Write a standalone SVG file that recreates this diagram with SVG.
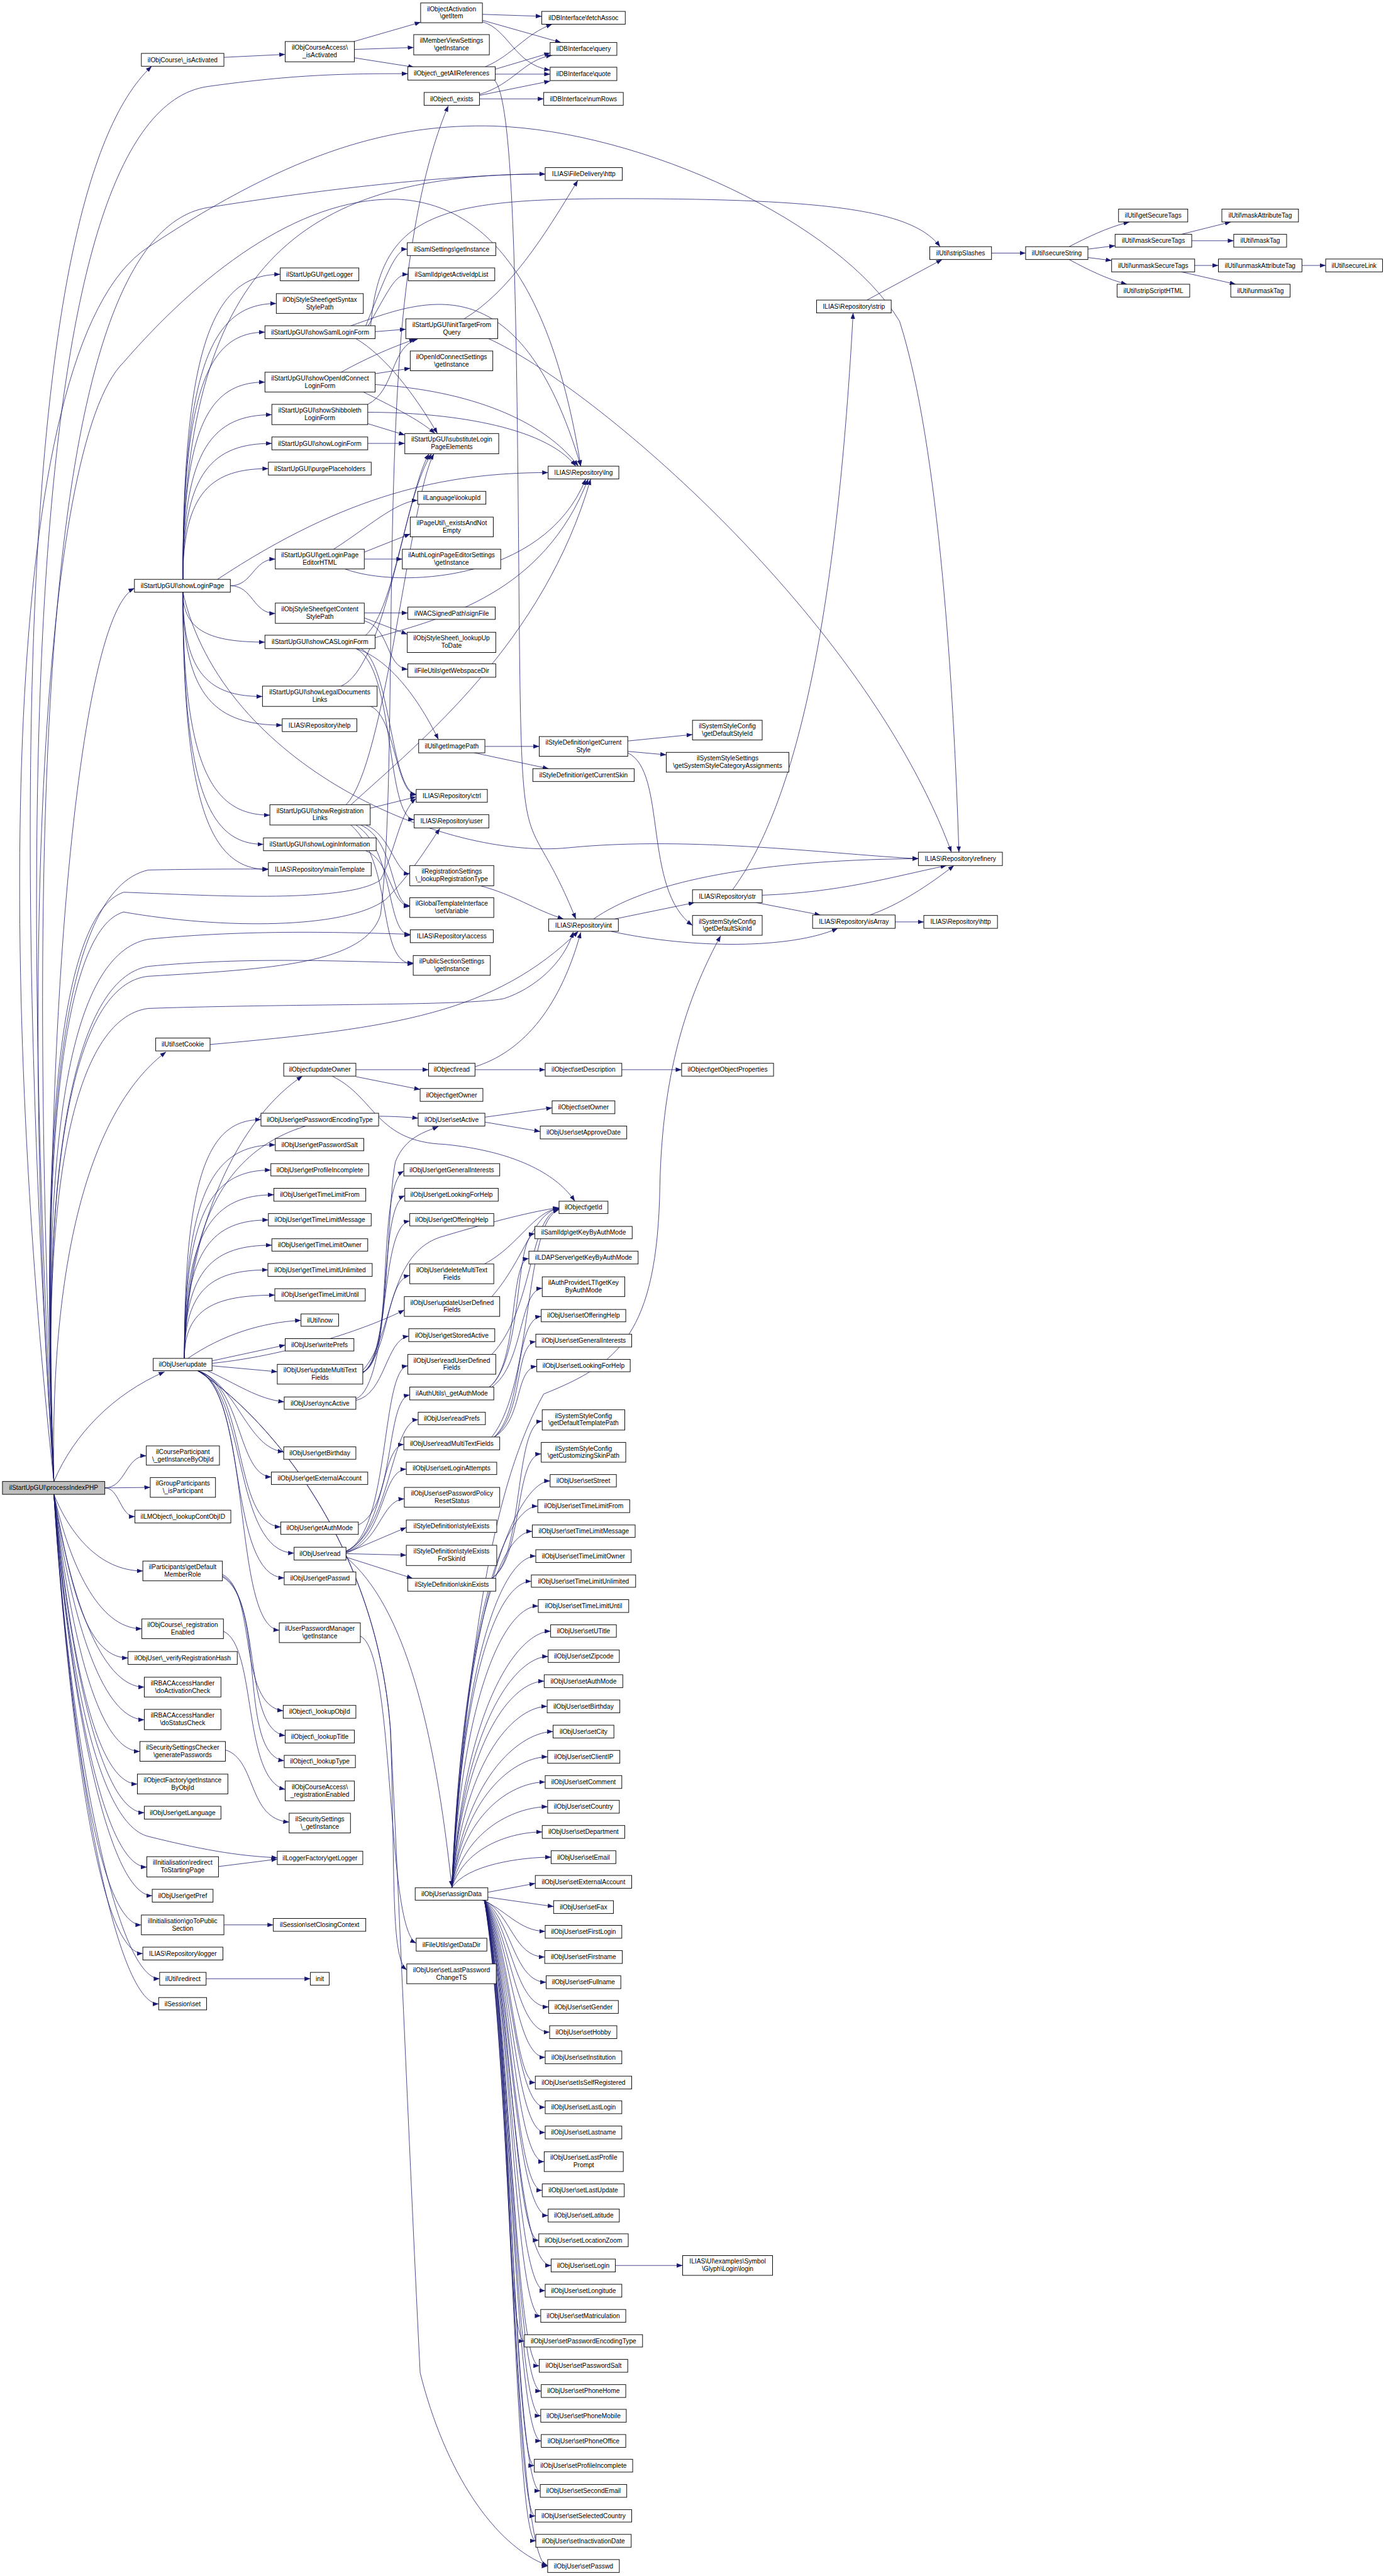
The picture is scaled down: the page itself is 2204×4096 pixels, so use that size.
<svg xmlns="http://www.w3.org/2000/svg" width="2204" height="4096" viewBox="0 0 2204 4096">
<defs>
<marker id="a" markerUnits="userSpaceOnUse" markerWidth="12" markerHeight="9" refX="12" refY="4.5" orient="auto"><path d="M0,0 L12,4.5 L0,9 z" fill="#191970"/></marker>
<style>
.n rect{fill:#fff;stroke:#000;stroke-width:1.2}
.n.r rect{fill:#bfbfbf}
.n text{font-family:"Liberation Sans",Arial,Helvetica,sans-serif;font-size:13px;text-anchor:middle;fill:#000}
.e path{fill:none;stroke:#191970;stroke-width:1;marker-end:url(#a)}
</style>
</defs>
<rect width="2204" height="4096" fill="#fff"/>
<g transform="scale(0.786)">
<g id="edges" class="e">
<path d="M109,2997 C30,1800 20,400 307,134"/>
<path d="M109,2997 C40,1700 40,230 420,175 C600,150 700,149 825,149"/>
<path d="M109,2997 C80,2350 150,1990 300,1975 C550,1960 740,1950 770,1850 C800,1600 780,1100 810,700 C830,450 870,300 907,214"/>
<path d="M109,2997 C60,1800 60,480 420,420 C700,375 950,352 1103,352"/>
<path d="M109,2997 C0,2000 -10,700 300,500 C600,300 800,250 1000,255 C1300,265 1700,450 1820,650 C1900,900 1930,1400 1940,1724"/>
<path d="M109,2997 C80,2200 150,1250 272,1190"/>
<path d="M109,2997 C40,2000 80,900 250,733 C400,560 600,400 800,403 C1000,410 1120,600 1175,943"/>
<path d="M109,2997 C80,2300 120,1850 250,1805 C400,1810 700,1830 770,1780 C800,1720 810,1640 842,1615"/>
<path d="M109,2997 C80,2300 130,1880 250,1845 C450,1880 700,1880 780,1820 C830,1770 860,1720 890,1676"/>
<path d="M109,2997 C80,2300 120,1800 300,1760 C400,1758 480,1758 543,1758"/>
<path d="M109,2997 C80,2300 140,1930 300,1900 C500,1880 700,1886 830,1890"/>
<path d="M109,2997 C80,2350 150,1980 300,1955 C500,1935 700,1945 836,1948"/>
<path d="M109,2997 C80,2400 150,2060 300,2040 C600,2030 950,2035 1020,2020 C1080,2000 1140,1950 1160,1885"/>
<path d="M109,2997 C100,2500 200,2230 336,2128"/>
<path d="M109,2997 C150,2900 230,2820 333,2775"/>
<path d="M212,3010 C254,3010 254,2945 296,2945"/>
<path d="M212,3010 L304,3009"/>
<path d="M212,3010 C242,3010 243,3068 273,3068"/>
<path d="M109,3023 C140,3100 199,3178 289,3178"/>
<path d="M109,3023 C140,3159 197,3295 287,3295"/>
<path d="M109,3023 C140,3188 169,3354 259,3354"/>
<path d="M109,3023 C140,3218 202,3413 292,3413"/>
<path d="M109,3023 C140,3251 202,3479 292,3479"/>
<path d="M109,3023 C140,3283 193,3543 283,3543"/>
<path d="M109,3023 C140,3316 188,3609 278,3609"/>
<path d="M109,3023 C140,3345 202,3667 292,3667"/>
<path d="M109,3023 C140,3391 200,3690 300,3715 C400,3740 480,3755 561,3758"/>
<path d="M109,3023 C140,3400 207,3777 297,3777"/>
<path d="M109,3023 C140,3429 218,3835 308,3835"/>
<path d="M109,3023 C140,3459 196,3894 286,3894"/>
<path d="M109,3023 C140,3488 199,3952 289,3952"/>
<path d="M109,3023 C140,3513 233,4003 323,4003"/>
<path d="M109,3023 C140,3538 231,4054 321,4054"/>
<path d="M370,1172 C370,516 627,352 1103,352"/>
<path d="M370,1172 C370,678 439,555 567,555"/>
<path d="M370,1172 C370,726 436,614 559,614"/>
<path d="M370,1172 C370,772 428,672 536,672"/>
<path d="M370,1172 C370,853 428,773 536,773"/>
<path d="M370,1172 C370,905 433,839 550,839"/>
<path d="M370,1172 C370,952 433,897 550,897"/>
<path d="M370,1172 C370,993 431,948 543,948"/>
<path d="M466,1185 C511,1185 512,1131 557,1131"/>
<path d="M440,1172 C700,1000 900,956 1109,956"/>
<path d="M466,1185 C512,1185 511,1241 557,1241"/>
<path d="M370,1198 C370,1278 428,1299 536,1299"/>
<path d="M370,1198 C370,1366 426,1409 531,1409"/>
<path d="M370,1198 C370,1413 440,1467 571,1467"/>
<path d="M370,1198 C370,1558 432,1649 546,1649"/>
<path d="M370,1198 C370,1606 427,1708 533,1708"/>
<path d="M370,1198 C370,1646 431,1759 543,1759"/>
<path d="M370,1198 C450,1550 900,1740 1150,1715 S1700,1730 1858,1737"/>
<path d="M740,659 C780,560 800,504 824,504"/>
<path d="M745,659 C790,580 800,555 826,555"/>
<path d="M759,671 L821,666"/>
<path d="M720,685 C780,720 840,800 885,877"/>
<path d="M710,659 C850,610 1050,520 1175,943"/>
<path d="M750,659 C770,420 900,400 1300,402 S1850,430 1902,499"/>
<path d="M690,753 C750,720 800,700 840,686"/>
<path d="M759,756 L830,745"/>
<path d="M735,793 C790,820 850,850 880,877"/>
<path d="M759,778 C950,790 1100,850 1170,943"/>
<path d="M744,818 C800,790 790,700 845,686"/>
<path d="M744,857 L819,880"/>
<path d="M744,834 C900,834 1100,860 1165,943"/>
<path d="M744,897 L819,897"/>
<path d="M675,1111 C740,1070 800,1015 845,1012"/>
<path d="M737,1117 L830,1080"/>
<path d="M737,1131 L814,1131"/>
<path d="M698,1151 C800,1190 1100,1180 1185,969"/>
<path d="M737,1240 L825,1240"/>
<path d="M737,1250 L824,1283"/>
<path d="M737,1256 C790,1270 780,1350 825,1354"/>
<path d="M740,1285 C800,1230 820,1000 873,918"/>
<path d="M720,1312 C780,1330 840,1400 887,1496"/>
<path d="M730,1312 C790,1340 790,1600 842,1607"/>
<path d="M720,1312 C800,1350 780,1655 838,1658"/>
<path d="M759,1290 C900,1250 1100,1200 1190,969"/>
<path d="M690,1388 C780,1350 820,1000 868,918"/>
<path d="M750,1429 C800,1450 800,1605 842,1608"/>
<path d="M700,1628 C780,1550 830,1000 878,918"/>
<path d="M710,1628 C850,1500 1100,1300 1195,969"/>
<path d="M749,1635 L842,1612"/>
<path d="M740,1669 C790,1690 800,1765 829,1768"/>
<path d="M730,1669 C800,1700 790,1830 829,1832"/>
<path d="M720,1669 C800,1720 780,1890 830,1892"/>
<path d="M710,1669 C800,1750 760,1950 836,1950"/>
<path d="M740,1721 C790,1740 790,1830 829,1834"/>
<path d="M981,1510 L1091,1510"/>
<path d="M960,1523 L1110,1555"/>
<path d="M1270,1499 L1401,1486"/>
<path d="M1270,1520 L1348,1527"/>
<path d="M1270,1523 C1350,1560 1300,1800 1401,1872"/>
<path d="M972,1792 C1040,1810 1080,1840 1140,1859"/>
<path d="M1244,1859 L1405,1826"/>
<path d="M1201,1859 C1300,1790 1500,1740 1858,1737"/>
<path d="M1236,1884 C1400,1920 1600,1920 1695,1878"/>
<path d="M1542,1811 C1700,1805 1800,1775 1915,1751"/>
<path d="M1530,1826 L1660,1851"/>
<path d="M1482,1800 C1600,1640 1690,1300 1726,633"/>
<path d="M1760,1851 C1820,1830 1880,1790 1930,1751"/>
<path d="M1811,1865 L1869,1865"/>
<path d="M1754,607 L1906,525"/>
<path d="M2006,512 L2075,512"/>
<path d="M2163,499 C2200,480 2240,460 2285,449"/>
<path d="M2201,504 L2256,497"/>
<path d="M2201,521 L2249,527"/>
<path d="M2163,525 C2200,545 2240,565 2280,575"/>
<path d="M2390,474 L2490,449"/>
<path d="M2411,487 L2496,487"/>
<path d="M2417,537 L2465,537"/>
<path d="M2390,550 L2500,575"/>
<path d="M2634,537 L2682,537"/>
<path d="M453,116 L577,110"/>
<path d="M716,84 L851,45"/>
<path d="M717,100 L837,96"/>
<path d="M717,117 L838,136"/>
<path d="M976,29 L1096,33"/>
<path d="M976,41 L1135,86"/>
<path d="M976,44 C1030,60 1040,130 1113,142"/>
<path d="M982,135 C1040,110 1060,70 1117,49"/>
<path d="M1002,140 L1113,107"/>
<path d="M1002,150 L1113,150"/>
<path d="M1000,162 C1040,200 1045,600 1050,1200 S1060,1600 1165,1859"/>
<path d="M970,191 C1040,170 1060,120 1117,112"/>
<path d="M970,193 L1113,164"/>
<path d="M970,200 L1100,200"/>
<path d="M939,645 C1030,590 1100,480 1169,365"/>
<path d="M988,685 C1200,780 1750,1250 1925,1724"/>
<path d="M425,2113 C800,2080 1000,2050 1170,1884"/>
<path d="M373,2748 C380,2450 500,2250 612,2177"/>
<path d="M373,2748 C380,2400 500,2230 846,2262"/>
<path d="M373,2748 C373,2362 427,2265 528,2265"/>
<path d="M373,2748 C373,2402 437,2316 557,2316"/>
<path d="M373,2748 C373,2443 434,2367 548,2367"/>
<path d="M373,2748 C373,2483 436,2417 554,2417"/>
<path d="M373,2748 C373,2524 433,2468 543,2468"/>
<path d="M373,2748 C373,2564 435,2519 550,2519"/>
<path d="M373,2748 C373,2605 432,2569 542,2569"/>
<path d="M373,2748 C373,2646 437,2620 556,2620"/>
<path d="M380,2748 C450,2700 530,2675 609,2671"/>
<path d="M429,2753 L577,2721"/>
<path d="M429,2763 L561,2775"/>
<path d="M420,2773 C480,2800 520,2830 575,2836"/>
<path d="M400,2773 C480,2800 500,2930 574,2937"/>
<path d="M400,2773 C490,2800 480,2985 549,2988"/>
<path d="M400,2773 C500,2800 470,3085 568,3089"/>
<path d="M400,2773 C500,2810 470,3140 595,3142"/>
<path d="M400,2773 C500,2810 460,3190 575,3192"/>
<path d="M400,2773 C510,2820 470,3290 565,3298"/>
<path d="M400,2773 C520,2850 760,3100 790,3500 C810,3900 830,4400 850,4800 C900,5000 1000,5150 1108,5190"/>
<path d="M400,2773 C520,2850 760,3100 790,3500 C800,3800 790,3960 823,3985"/>
<path d="M429,2758 C600,2740 760,2680 818,2650"/>
<path d="M720,2164 L867,2164"/>
<path d="M720,2178 L850,2204"/>
<path d="M672,2177 C760,2220 760,2310 900,2315 C1050,2330 1130,2380 1163,2430"/>
<path d="M961,2164 L1103,2164"/>
<path d="M961,2158 C1050,2130 1130,2050 1175,1886"/>
<path d="M1258,2164 L1379,2164"/>
<path d="M981,2260 L1117,2241"/>
<path d="M981,2270 L1093,2289"/>
<path d="M734,2775 C800,2760 760,2400 817,2369"/>
<path d="M734,2776 C795,2750 765,2440 819,2419"/>
<path d="M734,2777 C790,2740 770,2480 829,2470"/>
<path d="M734,2778 C790,2730 780,2590 829,2580"/>
<path d="M734,2772 C800,2700 780,2530 900,2500 C1000,2470 1080,2450 1131,2443"/>
<path d="M720,2833 C780,2820 780,2710 827,2703"/>
<path d="M720,2830 C790,2800 780,2450 800,2350 C820,2300 860,2290 887,2279"/>
<path d="M725,3085 C800,3050 780,2830 829,2822"/>
<path d="M700,3138 C790,3100 770,2770 825,2763"/>
<path d="M700,3138 C790,3100 790,2875 846,2872"/>
<path d="M700,3139 C780,3100 770,2925 817,2922"/>
<path d="M700,3140 C780,3110 770,2975 822,2972"/>
<path d="M700,3141 C770,3120 770,3035 818,3032"/>
<path d="M700,3142 L822,3090"/>
<path d="M700,3143 L822,3146"/>
<path d="M700,3150 L835,3193"/>
<path d="M700,3150 C820,3250 880,3500 914,3817"/>
<path d="M914,3819 C950,3300 1000,3000 1100,2820 C1250,2760 1330,2700 1335,2400 C1340,2150 1400,2000 1458,1893"/>
<path d="M980,2557 C1050,2520 1080,2450 1131,2444"/>
<path d="M995,2623 C1060,2550 1080,2450 1131,2445"/>
<path d="M995,2740 C1080,2650 1070,2460 1131,2446"/>
<path d="M995,2907 C1080,2800 1060,2470 1131,2447"/>
<path d="M1000,2907 C1060,2850 1040,2670 1095,2663"/>
<path d="M1000,2907 C1060,2860 1040,2720 1084,2714"/>
<path d="M1000,2907 C1060,2870 1040,2770 1086,2764"/>
<path d="M990,2806 C1060,2750 1040,2500 1082,2496"/>
<path d="M990,2806 C1050,2760 1030,2550 1070,2546"/>
<path d="M995,2806 C1060,2760 1050,2610 1097,2606"/>
<path d="M995,3193 C1060,3150 1040,2880 1097,2875"/>
<path d="M995,3193 C1060,3150 1040,2945 1095,2941"/>
<path d="M729,3310 C800,3340 780,3900 842,3931"/>
<path d="M450,3185 C520,3220 480,3450 573,3461"/>
<path d="M450,3188 C530,3230 490,3500 577,3511"/>
<path d="M450,3190 C540,3240 480,3550 575,3562"/>
<path d="M452,3300 C520,3330 490,3600 577,3620"/>
<path d="M456,3540 C520,3560 500,3680 585,3686"/>
<path d="M442,3776 L561,3761"/>
<path d="M453,3894 L553,3894"/>
<path d="M417,4003 L628,4003"/>
<path d="M1245,4583 L1381,4583"/>
<path d="M914,3819 C944,3202 1053,2996 1113,2996"/>
<path d="M914,3819 C940,3240 1028,3047 1088,3047"/>
<path d="M914,3819 C938,3278 1017,3098 1077,3098"/>
<path d="M914,3819 C939,3316 1024,3148 1084,3148"/>
<path d="M914,3819 C938,3354 1015,3199 1075,3199"/>
<path d="M914,3819 C940,3392 1029,3249 1089,3249"/>
<path d="M914,3819 C944,3429 1054,3300 1114,3300"/>
<path d="M914,3819 C943,3467 1049,3351 1109,3351"/>
<path d="M914,3819 C942,3505 1041,3401 1101,3401"/>
<path d="M914,3819 C943,3543 1047,3452 1107,3452"/>
<path d="M914,3819 C945,3582 1059,3503 1119,3503"/>
<path d="M914,3819 C943,3620 1048,3554 1108,3554"/>
<path d="M914,3819 C942,3658 1043,3605 1103,3605"/>
<path d="M914,3819 C943,3696 1048,3655 1108,3655"/>
<path d="M914,3819 C941,3734 1037,3706 1097,3706"/>
<path d="M914,3819 C944,3772 1055,3757 1115,3757"/>
<path d="M987,3828 L1083,3810"/>
<path d="M987,3838 L1120,3857"/>
<path d="M975,3844 C1020,3860 1050,3907 1103,3907"/>
<path d="M980,3844 C1035,3874 1040,3959 1102,3959"/>
<path d="M980,3844 C1035,3886 1040,4010 1105,4010"/>
<path d="M980,3844 C1035,3898 1040,4060 1110,4060"/>
<path d="M980,3844 C1035,3911 1040,4111 1112,4111"/>
<path d="M980,3844 C1035,3923 1040,4162 1103,4162"/>
<path d="M980,3844 C1035,3936 1040,4213 1083,4213"/>
<path d="M980,3844 C1035,3949 1040,4263 1103,4263"/>
<path d="M980,3844 C1035,3962 1040,4314 1103,4314"/>
<path d="M980,3844 C1035,3976 1040,4373 1101,4373"/>
<path d="M980,3844 C1035,3991 1040,4431 1097,4431"/>
<path d="M980,3844 C1035,4005 1040,4482 1109,4482"/>
<path d="M980,3844 C1035,4016 1040,4532 1090,4532"/>
<path d="M980,3844 C1035,4029 1040,4583 1115,4583"/>
<path d="M980,3844 C1035,4042 1040,4634 1103,4634"/>
<path d="M980,3844 C1035,4054 1040,4685 1094,4685"/>
<path d="M980,3844 C1035,4067 1021,4736 1061,4736"/>
<path d="M980,3844 C1035,4080 1040,4786 1091,4786"/>
<path d="M980,3844 C1035,4092 1040,4837 1095,4837"/>
<path d="M980,3844 C1035,4105 1040,4887 1094,4887"/>
<path d="M980,3844 C1035,4118 1040,4938 1095,4938"/>
<path d="M980,3844 C1035,4130 1040,4988 1081,4988"/>
<path d="M980,3844 C1035,4143 1040,5039 1093,5039"/>
<path d="M980,3844 C1035,4155 1040,5090 1083,5090"/>
<path d="M980,3844 C1035,4168 1040,5140 1084,5140"/>
<path d="M980,3844 C1035,4181 1040,5191 1108,5191"/>
</g>
<g id="n1" class="n r"><rect x="5" y="2997" width="207" height="26"/><text x="108.5" y="3014.5">ilStartUpGUI\processIndexPHP</text></g>
<g id="n2" class="n"><rect x="286" y="108" width="167" height="26"/><text x="369.5" y="125.5">ilObjCourse\_isActivated</text></g>
<g id="n3" class="n"><rect x="577" y="84" width="140" height="41"/><text x="647" y="100.5">ilObjCourseAccess\</text><text x="647" y="115.5">_isActivated</text></g>
<g id="n4" class="n"><rect x="851" y="6" width="125" height="40"/><text x="913.5" y="22.5">ilObjectActivation</text><text x="913.5" y="37.5">\getItem</text></g>
<g id="n5" class="n"><rect x="837" y="70" width="153" height="41"/><text x="913.5" y="86.5">ilMemberViewSettings</text><text x="913.5" y="101.5">\getInstance</text></g>
<g id="n6" class="n"><rect x="825" y="135" width="177" height="27"/><text x="913.5" y="153">ilObject\_getAllReferences</text></g>
<g id="n7" class="n"><rect x="858" y="187" width="112" height="26"/><text x="914" y="204.5">ilObject\_exists</text></g>
<g id="n8" class="n"><rect x="1096" y="23" width="169" height="26"/><text x="1180.5" y="40.5">ilDBInterface\fetchAssoc</text></g>
<g id="n9" class="n"><rect x="1113" y="86" width="135" height="26"/><text x="1180.5" y="103.5">ilDBInterface\query</text></g>
<g id="n10" class="n"><rect x="1113" y="136" width="135" height="27"/><text x="1180.5" y="154">ilDBInterface\quote</text></g>
<g id="n11" class="n"><rect x="1100" y="187" width="161" height="26"/><text x="1180.5" y="204.5">ilDBInterface\numRows</text></g>
<g id="n12" class="n"><rect x="1103" y="339" width="156" height="26"/><text x="1181" y="356.5">ILIAS\FileDelivery\http</text></g>
<g id="n13" class="n"><rect x="824" y="491" width="179" height="26"/><text x="913.5" y="508.5">ilSamlSettings\getInstance</text></g>
<g id="n14" class="n"><rect x="826" y="542" width="175" height="26"/><text x="913.5" y="559.5">ilSamlIdp\getActiveIdpList</text></g>
<g id="n15" class="n"><rect x="821" y="645" width="186" height="40"/><text x="914" y="661.5">ilStartUpGUI\initTargetFrom</text><text x="914" y="676.5">Query</text></g>
<g id="n16" class="n"><rect x="830" y="710" width="167" height="40"/><text x="913.5" y="726.5">ilOpenIdConnectSettings</text><text x="913.5" y="741.5">\getInstance</text></g>
<g id="n17" class="n"><rect x="819" y="877" width="190" height="41"/><text x="914" y="893.5">ilStartUpGUI\substituteLogin</text><text x="914" y="908.5">PageElements</text></g>
<g id="n18" class="n"><rect x="1109" y="943" width="143" height="26"/><text x="1180.5" y="960.5">ILIAS\Repository\lng</text></g>
<g id="n19" class="n"><rect x="845" y="994" width="138" height="26"/><text x="914" y="1011.5">ilLanguage\lookupId</text></g>
<g id="n20" class="n"><rect x="830" y="1046" width="168" height="40"/><text x="914" y="1062.5">ilPageUtil\_existsAndNot</text><text x="914" y="1077.5">Empty</text></g>
<g id="n21" class="n"><rect x="814" y="1111" width="199" height="40"/><text x="913.5" y="1127.5">ilAuthLoginPageEditorSettings</text><text x="913.5" y="1142.5">\getInstance</text></g>
<g id="n22" class="n"><rect x="567" y="542" width="159" height="26"/><text x="646.5" y="559.5">ilStartUpGUI\getLogger</text></g>
<g id="n23" class="n"><rect x="559" y="594" width="176" height="40"/><text x="647" y="610.5">ilObjStyleSheet\getSyntax</text><text x="647" y="625.5">StylePath</text></g>
<g id="n24" class="n"><rect x="536" y="659" width="223" height="26"/><text x="647.5" y="676.5">ilStartUpGUI\showSamlLoginForm</text></g>
<g id="n25" class="n"><rect x="536" y="753" width="223" height="40"/><text x="647.5" y="769.5">ilStartUpGUI\showOpenIdConnect</text><text x="647.5" y="784.5">LoginForm</text></g>
<g id="n26" class="n"><rect x="550" y="818" width="194" height="41"/><text x="647" y="834.5">ilStartUpGUI\showShibboleth</text><text x="647" y="849.5">LoginForm</text></g>
<g id="n27" class="n"><rect x="550" y="884" width="194" height="26"/><text x="647" y="901.5">ilStartUpGUI\showLoginForm</text></g>
<g id="n28" class="n"><rect x="543" y="935" width="208" height="26"/><text x="647" y="952.5">ilStartUpGUI\purgePlaceholders</text></g>
<g id="n29" class="n"><rect x="557" y="1111" width="180" height="40"/><text x="647" y="1127.5">ilStartUpGUI\getLoginPage</text><text x="647" y="1142.5">EditorHTML</text></g>
<g id="n30" class="n"><rect x="272" y="1172" width="194" height="26"/><text x="369" y="1189.5">ilStartUpGUI\showLoginPage</text></g>
<g id="n31" class="n"><rect x="557" y="1220" width="180" height="41"/><text x="647" y="1236.5">ilObjStyleSheet\getContent</text><text x="647" y="1251.5">StylePath</text></g>
<g id="n32" class="n"><rect x="825" y="1228" width="177" height="25"/><text x="913.5" y="1245">ilWACSignedPath\signFile</text></g>
<g id="n33" class="n"><rect x="824" y="1279" width="179" height="41"/><text x="913.5" y="1295.5">ilObjStyleSheet\_lookupUp</text><text x="913.5" y="1310.5">ToDate</text></g>
<g id="n34" class="n"><rect x="536" y="1285" width="223" height="27"/><text x="647.5" y="1303">ilStartUpGUI\showCASLoginForm</text></g>
<g id="n35" class="n"><rect x="825" y="1343" width="178" height="27"/><text x="914" y="1361">ilFileUtils\getWebspaceDir</text></g>
<g id="n36" class="n"><rect x="531" y="1388" width="232" height="41"/><text x="647" y="1404.5">ilStartUpGUI\showLegalDocuments</text><text x="647" y="1419.5">Links</text></g>
<g id="n37" class="n"><rect x="571" y="1454" width="151" height="26"/><text x="646.5" y="1471.5">ILIAS\Repository\help</text></g>
<g id="n38" class="n"><rect x="847" y="1496" width="134" height="27"/><text x="914" y="1514">ilUtil\getImagePath</text></g>
<g id="n39" class="n"><rect x="1091" y="1490" width="179" height="40"/><text x="1180.5" y="1506.5">ilStyleDefinition\getCurrent</text><text x="1180.5" y="1521.5">Style</text></g>
<g id="n40" class="n"><rect x="1401" y="1457" width="141" height="40"/><text x="1471.5" y="1473.5">ilSystemStyleConfig</text><text x="1471.5" y="1488.5">\getDefaultStyleId</text></g>
<g id="n41" class="n"><rect x="1348" y="1522" width="248" height="40"/><text x="1472" y="1538.5">ilSystemStyleSettings</text><text x="1472" y="1553.5">\getSystemStyleCategoryAssignments</text></g>
<g id="n42" class="n"><rect x="1078" y="1555" width="205" height="26"/><text x="1180.5" y="1572.5">ilStyleDefinition\getCurrentSkin</text></g>
<g id="n43" class="n"><rect x="842" y="1597" width="144" height="26"/><text x="914" y="1614.5">ILIAS\Repository\ctrl</text></g>
<g id="n44" class="n"><rect x="546" y="1628" width="203" height="41"/><text x="647.5" y="1644.5">ilStartUpGUI\showRegistration</text><text x="647.5" y="1659.5">Links</text></g>
<g id="n45" class="n"><rect x="838" y="1648" width="151" height="27"/><text x="913.5" y="1666">ILIAS\Repository\user</text></g>
<g id="n46" class="n"><rect x="533" y="1695" width="228" height="26"/><text x="647" y="1712.5">ilStartUpGUI\showLoginInformation</text></g>
<g id="n47" class="n"><rect x="543" y="1745" width="208" height="27"/><text x="647" y="1763">ILIAS\Repository\mainTemplate</text></g>
<g id="n48" class="n"><rect x="829" y="1751" width="170" height="41"/><text x="914" y="1767.5">ilRegistrationSettings</text><text x="914" y="1782.5">\_lookupRegistrationType</text></g>
<g id="n49" class="n"><rect x="829" y="1816" width="170" height="40"/><text x="914" y="1832.5">ilGlobalTemplateInterface</text><text x="914" y="1847.5">\setVariable</text></g>
<g id="n50" class="n"><rect x="830" y="1881" width="168" height="26"/><text x="914" y="1898.5">ILIAS\Repository\access</text></g>
<g id="n51" class="n"><rect x="836" y="1933" width="156" height="40"/><text x="914" y="1949.5">ilPublicSectionSettings</text><text x="914" y="1964.5">\getInstance</text></g>
<g id="n52" class="n"><rect x="1858" y="1724" width="170" height="27"/><text x="1943" y="1742">ILIAS\Repository\refinery</text></g>
<g id="n53" class="n"><rect x="1401" y="1800" width="141" height="26"/><text x="1471.5" y="1817.5">ILIAS\Repository\str</text></g>
<g id="n54" class="n"><rect x="1110" y="1859" width="141" height="25"/><text x="1180.5" y="1876">ILIAS\Repository\int</text></g>
<g id="n55" class="n"><rect x="1401" y="1852" width="141" height="40"/><text x="1471.5" y="1868.5">ilSystemStyleConfig</text><text x="1471.5" y="1883.5">\getDefaultSkinId</text></g>
<g id="n56" class="n"><rect x="1644" y="1851" width="167" height="27"/><text x="1727.5" y="1869">ILIAS\Repository\isArray</text></g>
<g id="n57" class="n"><rect x="1869" y="1852" width="149" height="26"/><text x="1943.5" y="1869.5">ILIAS\Repository\http</text></g>
<g id="n58" class="n"><rect x="1881" y="499" width="125" height="26"/><text x="1943.5" y="516.5">ilUtil\stripSlashes</text></g>
<g id="n59" class="n"><rect x="1652" y="607" width="151" height="26"/><text x="1727.5" y="624.5">ILIAS\Repository\strip</text></g>
<g id="n60" class="n"><rect x="2075" y="499" width="126" height="26"/><text x="2138" y="516.5">ilUtil\secureString</text></g>
<g id="n61" class="n"><rect x="2263" y="423" width="140" height="26"/><text x="2333" y="440.5">ilUtil\getSecureTags</text></g>
<g id="n62" class="n"><rect x="2256" y="474" width="155" height="26"/><text x="2333.5" y="491.5">ilUtil\maskSecureTags</text></g>
<g id="n63" class="n"><rect x="2249" y="524" width="168" height="26"/><text x="2333" y="541.5">ilUtil\unmaskSecureTags</text></g>
<g id="n64" class="n"><rect x="2260" y="575" width="147" height="26"/><text x="2333.5" y="592.5">ilUtil\stripScriptHTML</text></g>
<g id="n65" class="n"><rect x="2472" y="423" width="155" height="26"/><text x="2549.5" y="440.5">ilUtil\maskAttributeTag</text></g>
<g id="n66" class="n"><rect x="2496" y="474" width="107" height="26"/><text x="2549.5" y="491.5">ilUtil\maskTag</text></g>
<g id="n67" class="n"><rect x="2465" y="524" width="169" height="26"/><text x="2549.5" y="541.5">ilUtil\unmaskAttributeTag</text></g>
<g id="n68" class="n"><rect x="2490" y="575" width="120" height="26"/><text x="2550" y="592.5">ilUtil\unmaskTag</text></g>
<g id="n69" class="n"><rect x="2682" y="524" width="115" height="26"/><text x="2739.5" y="541.5">ilUtil\secureLink</text></g>
<g id="n70" class="n"><rect x="315" y="2100" width="110" height="26"/><text x="370" y="2117.5">ilUtil\setCookie</text></g>
<g id="n71" class="n"><rect x="574" y="2151" width="146" height="26"/><text x="647" y="2168.5">ilObject\updateOwner</text></g>
<g id="n72" class="n"><rect x="867" y="2151" width="94" height="26"/><text x="914" y="2168.5">ilObject\read</text></g>
<g id="n73" class="n"><rect x="850" y="2202" width="127" height="26"/><text x="913.5" y="2219.5">ilObject\getOwner</text></g>
<g id="n74" class="n"><rect x="1103" y="2151" width="155" height="26"/><text x="1180.5" y="2168.5">ilObject\setDescription</text></g>
<g id="n75" class="n"><rect x="1379" y="2151" width="186" height="26"/><text x="1472" y="2168.5">ilObject\getObjectProperties</text></g>
<g id="n76" class="n"><rect x="1117" y="2227" width="127" height="26"/><text x="1180.5" y="2244.5">ilObject\setOwner</text></g>
<g id="n77" class="n"><rect x="528" y="2252" width="238" height="26"/><text x="647" y="2269.5">ilObjUser\getPasswordEncodingType</text></g>
<g id="n78" class="n"><rect x="846" y="2252" width="135" height="26"/><text x="913.5" y="2269.5">ilObjUser\setActive</text></g>
<g id="n79" class="n"><rect x="1093" y="2278" width="175" height="26"/><text x="1180.5" y="2295.5">ilObjUser\setApproveDate</text></g>
<g id="n80" class="n"><rect x="557" y="2303" width="179" height="25"/><text x="646.5" y="2320">ilObjUser\getPasswordSalt</text></g>
<g id="n81" class="n"><rect x="548" y="2354" width="198" height="25"/><text x="647" y="2371">ilObjUser\getProfileIncomplete</text></g>
<g id="n82" class="n"><rect x="554" y="2404" width="186" height="26"/><text x="647" y="2421.5">ilObjUser\getTimeLimitFrom</text></g>
<g id="n83" class="n"><rect x="543" y="2455" width="208" height="25"/><text x="647" y="2472">ilObjUser\getTimeLimitMessage</text></g>
<g id="n84" class="n"><rect x="550" y="2506" width="194" height="25"/><text x="647" y="2523">ilObjUser\getTimeLimitOwner</text></g>
<g id="n85" class="n"><rect x="542" y="2556" width="211" height="26"/><text x="647.5" y="2573.5">ilObjUser\getTimeLimitUnlimited</text></g>
<g id="n86" class="n"><rect x="556" y="2607" width="183" height="25"/><text x="647.5" y="2624">ilObjUser\getTimeLimitUntil</text></g>
<g id="n87" class="n"><rect x="609" y="2658" width="76" height="25"/><text x="647" y="2675">ilUtil\now</text></g>
<g id="n88" class="n"><rect x="577" y="2708" width="139" height="25"/><text x="646.5" y="2725">ilObjUser\writePrefs</text></g>
<g id="n89" class="n"><rect x="310" y="2748" width="119" height="25"/><text x="369.5" y="2765">ilObjUser\update</text></g>
<g id="n90" class="n"><rect x="561" y="2760" width="173" height="40"/><text x="647.5" y="2776.5">ilObjUser\updateMultiText</text><text x="647.5" y="2791.5">Fields</text></g>
<g id="n91" class="n"><rect x="575" y="2826" width="145" height="25"/><text x="647.5" y="2843">ilObjUser\syncActive</text></g>
<g id="n92" class="n"><rect x="574" y="2927" width="146" height="25"/><text x="647" y="2944">ilObjUser\getBirthday</text></g>
<g id="n93" class="n"><rect x="296" y="2925" width="148" height="39"/><text x="370" y="2941.5">ilCourseParticipant</text><text x="370" y="2956.5">\_getInstanceByObjId</text></g>
<g id="n94" class="n"><rect x="549" y="2978" width="195" height="25"/><text x="646.5" y="2995">ilObjUser\getExternalAccount</text></g>
<g id="n95" class="n"><rect x="304" y="2989" width="132" height="40"/><text x="370" y="3005.5">ilGroupParticipants</text><text x="370" y="3020.5">\_isParticipant</text></g>
<g id="n96" class="n"><rect x="273" y="3055" width="194" height="26"/><text x="370" y="3072.5">ilLMObject\_lookupContObjID</text></g>
<g id="n97" class="n"><rect x="568" y="3079" width="157" height="25"/><text x="646.5" y="3096">ilObjUser\getAuthMode</text></g>
<g id="n98" class="n"><rect x="595" y="3130" width="105" height="26"/><text x="647.5" y="3147.5">ilObjUser\read</text></g>
<g id="n99" class="n"><rect x="289" y="3158" width="161" height="40"/><text x="369.5" y="3174.5">ilParticipants\getDefault</text><text x="369.5" y="3189.5">MemberRole</text></g>
<g id="n100" class="n"><rect x="575" y="3180" width="145" height="26"/><text x="647.5" y="3197.5">ilObjUser\getPasswd</text></g>
<g id="n101" class="n"><rect x="565" y="3283" width="164" height="40"/><text x="647" y="3299.5">ilUserPasswordManager</text><text x="647" y="3314.5">\getInstance</text></g>
<g id="n102" class="n"><rect x="287" y="3275" width="165" height="40"/><text x="369.5" y="3291.5">ilObjCourse\_registration</text><text x="369.5" y="3306.5">Enabled</text></g>
<g id="n103" class="n"><rect x="259" y="3341" width="221" height="26"/><text x="369.5" y="3358.5">ilObjUser\_verifyRegistrationHash</text></g>
<g id="n104" class="n"><rect x="292" y="3393" width="155" height="40"/><text x="369.5" y="3409.5">ilRBACAccessHandler</text><text x="369.5" y="3424.5">\doActivationCheck</text></g>
<g id="n105" class="n"><rect x="292" y="3458" width="155" height="41"/><text x="369.5" y="3474.5">ilRBACAccessHandler</text><text x="369.5" y="3489.5">\doStatusCheck</text></g>
<g id="n106" class="n"><rect x="283" y="3523" width="173" height="40"/><text x="369.5" y="3539.5">ilSecuritySettingsChecker</text><text x="369.5" y="3554.5">\generatePasswords</text></g>
<g id="n107" class="n"><rect x="278" y="3589" width="183" height="40"/><text x="369.5" y="3605.5">ilObjectFactory\getInstance</text><text x="369.5" y="3620.5">ByObjId</text></g>
<g id="n108" class="n"><rect x="292" y="3654" width="155" height="26"/><text x="369.5" y="3671.5">ilObjUser\getLanguage</text></g>
<g id="n109" class="n"><rect x="561" y="3745" width="173" height="27"/><text x="647.5" y="3763">ilLoggerFactory\getLogger</text></g>
<g id="n110" class="n"><rect x="297" y="3756" width="145" height="41"/><text x="369.5" y="3772.5">ilInitialisation\redirect</text><text x="369.5" y="3787.5">ToStartingPage</text></g>
<g id="n111" class="n"><rect x="308" y="3822" width="123" height="26"/><text x="369.5" y="3839.5">ilObjUser\getPref</text></g>
<g id="n112" class="n"><rect x="286" y="3874" width="167" height="40"/><text x="369.5" y="3890.5">ilInitialisation\goToPublic</text><text x="369.5" y="3905.5">Section</text></g>
<g id="n113" class="n"><rect x="553" y="3881" width="187" height="26"/><text x="646.5" y="3898.5">ilSession\setClosingContext</text></g>
<g id="n114" class="n"><rect x="289" y="3939" width="162" height="26"/><text x="370" y="3956.5">ILIAS\Repository\logger</text></g>
<g id="n115" class="n"><rect x="323" y="3990" width="94" height="26"/><text x="370" y="4007.5">ilUtil\redirect</text></g>
<g id="n116" class="n"><rect x="628" y="3990" width="38" height="26"/><text x="647" y="4007.5">init</text></g>
<g id="n117" class="n"><rect x="321" y="4041" width="97" height="25"/><text x="369.5" y="4058">ilSession\set</text></g>
<g id="n118" class="n"><rect x="573" y="3450" width="147" height="26"/><text x="646.5" y="3467.5">ilObject\_lookupObjId</text></g>
<g id="n119" class="n"><rect x="577" y="3500" width="140" height="26"/><text x="647" y="3517.5">ilObject\_lookupTitle</text></g>
<g id="n120" class="n"><rect x="575" y="3551" width="144" height="25"/><text x="647" y="3568">ilObject\_lookupType</text></g>
<g id="n121" class="n"><rect x="577" y="3603" width="140" height="40"/><text x="647" y="3619.5">ilObjCourseAccess\</text><text x="647" y="3634.5">_registrationEnabled</text></g>
<g id="n122" class="n"><rect x="585" y="3668" width="124" height="40"/><text x="647" y="3684.5">ilSecuritySettings</text><text x="647" y="3699.5">\_getInstance</text></g>
<g id="n123" class="n"><rect x="817" y="2354" width="194" height="25"/><text x="914" y="2371">ilObjUser\getGeneralInterests</text></g>
<g id="n124" class="n"><rect x="819" y="2404" width="189" height="26"/><text x="913.5" y="2421.5">ilObjUser\getLookingForHelp</text></g>
<g id="n125" class="n"><rect x="829" y="2455" width="170" height="25"/><text x="914" y="2472">ilObjUser\getOfferingHelp</text></g>
<g id="n126" class="n"><rect x="1131" y="2430" width="99" height="25"/><text x="1180.5" y="2447">ilObject\getId</text></g>
<g id="n127" class="n"><rect x="1082" y="2481" width="197" height="25"/><text x="1180.5" y="2498">ilSamlIdp\getKeyByAuthMode</text></g>
<g id="n128" class="n"><rect x="1070" y="2531" width="221" height="26"/><text x="1180.5" y="2548.5">ilLDAPServer\getKeyByAuthMode</text></g>
<g id="n129" class="n"><rect x="829" y="2557" width="170" height="40"/><text x="914" y="2573.5">ilObjUser\deleteMultiText</text><text x="914" y="2588.5">Fields</text></g>
<g id="n130" class="n"><rect x="1097" y="2583" width="167" height="40"/><text x="1180.5" y="2599.5">ilAuthProviderLTI\getKey</text><text x="1180.5" y="2614.5">ByAuthMode</text></g>
<g id="n131" class="n"><rect x="818" y="2623" width="193" height="40"/><text x="914.5" y="2639.5">ilObjUser\updateUserDefined</text><text x="914.5" y="2654.5">Fields</text></g>
<g id="n132" class="n"><rect x="1095" y="2649" width="171" height="25"/><text x="1180.5" y="2666">ilObjUser\setOfferingHelp</text></g>
<g id="n133" class="n"><rect x="827" y="2688" width="174" height="26"/><text x="914" y="2705.5">ilObjUser\getStoredActive</text></g>
<g id="n134" class="n"><rect x="1084" y="2699" width="194" height="26"/><text x="1181" y="2716.5">ilObjUser\setGeneralInterests</text></g>
<g id="n135" class="n"><rect x="825" y="2740" width="178" height="40"/><text x="914" y="2756.5">ilObjUser\readUserDefined</text><text x="914" y="2771.5">Fields</text></g>
<g id="n136" class="n"><rect x="1086" y="2750" width="189" height="25"/><text x="1180.5" y="2767">ilObjUser\setLookingForHelp</text></g>
<g id="n137" class="n"><rect x="829" y="2806" width="170" height="26"/><text x="914" y="2823.5">ilAuthUtils\_getAuthMode</text></g>
<g id="n138" class="n"><rect x="846" y="2857" width="136" height="25"/><text x="914" y="2874">ilObjUser\readPrefs</text></g>
<g id="n139" class="n"><rect x="1097" y="2852" width="167" height="41"/><text x="1180.5" y="2868.5">ilSystemStyleConfig</text><text x="1180.5" y="2883.5">\getDefaultTemplatePath</text></g>
<g id="n140" class="n"><rect x="817" y="2907" width="194" height="26"/><text x="914" y="2924.5">ilObjUser\readMultiTextFields</text></g>
<g id="n141" class="n"><rect x="1095" y="2918" width="171" height="40"/><text x="1180.5" y="2934.5">ilSystemStyleConfig</text><text x="1180.5" y="2949.5">\getCustomizingSkinPath</text></g>
<g id="n142" class="n"><rect x="822" y="2958" width="183" height="25"/><text x="913.5" y="2975">ilObjUser\setLoginAttempts</text></g>
<g id="n143" class="n"><rect x="1113" y="2983" width="134" height="25"/><text x="1180" y="3000">ilObjUser\setStreet</text></g>
<g id="n144" class="n"><rect x="818" y="3009" width="193" height="40"/><text x="914.5" y="3025.5">ilObjUser\setPasswordPolicy</text><text x="914.5" y="3040.5">ResetStatus</text></g>
<g id="n145" class="n"><rect x="1088" y="3034" width="186" height="26"/><text x="1181" y="3051.5">ilObjUser\setTimeLimitFrom</text></g>
<g id="n146" class="n"><rect x="822" y="3075" width="183" height="25"/><text x="913.5" y="3092">ilStyleDefinition\styleExists</text></g>
<g id="n147" class="n"><rect x="1077" y="3085" width="208" height="25"/><text x="1181" y="3102">ilObjUser\setTimeLimitMessage</text></g>
<g id="n148" class="n"><rect x="822" y="3126" width="183" height="41"/><text x="913.5" y="3142.5">ilStyleDefinition\styleExists</text><text x="913.5" y="3157.5">ForSkinId</text></g>
<g id="n149" class="n"><rect x="1084" y="3135" width="193" height="26"/><text x="1180.5" y="3152.5">ilObjUser\setTimeLimitOwner</text></g>
<g id="n150" class="n"><rect x="825" y="3193" width="178" height="26"/><text x="914" y="3210.5">ilStyleDefinition\skinExists</text></g>
<g id="n151" class="n"><rect x="1075" y="3186" width="211" height="25"/><text x="1180.5" y="3203">ilObjUser\setTimeLimitUnlimited</text></g>
<g id="n152" class="n"><rect x="1089" y="3236" width="183" height="26"/><text x="1180.5" y="3253.5">ilObjUser\setTimeLimitUntil</text></g>
<g id="n153" class="n"><rect x="1114" y="3287" width="133" height="25"/><text x="1180.5" y="3304">ilObjUser\setUTitle</text></g>
<g id="n154" class="n"><rect x="1109" y="3338" width="144" height="25"/><text x="1181" y="3355">ilObjUser\setZipcode</text></g>
<g id="n155" class="n"><rect x="1101" y="3388" width="159" height="26"/><text x="1180.5" y="3405.5">ilObjUser\setAuthMode</text></g>
<g id="n156" class="n"><rect x="1107" y="3439" width="147" height="26"/><text x="1180.5" y="3456.5">ilObjUser\setBirthday</text></g>
<g id="n157" class="n"><rect x="1119" y="3490" width="123" height="26"/><text x="1180.5" y="3507.5">ilObjUser\setCity</text></g>
<g id="n158" class="n"><rect x="1108" y="3541" width="146" height="26"/><text x="1181" y="3558.5">ilObjUser\setClientIP</text></g>
<g id="n159" class="n"><rect x="1103" y="3592" width="155" height="26"/><text x="1180.5" y="3609.5">ilObjUser\setComment</text></g>
<g id="n160" class="n"><rect x="1108" y="3642" width="145" height="26"/><text x="1180.5" y="3659.5">ilObjUser\setCountry</text></g>
<g id="n161" class="n"><rect x="1097" y="3693" width="167" height="26"/><text x="1180.5" y="3710.5">ilObjUser\setDepartment</text></g>
<g id="n162" class="n"><rect x="1115" y="3744" width="131" height="26"/><text x="1180.5" y="3761.5">ilObjUser\setEmail</text></g>
<g id="n163" class="n"><rect x="1083" y="3794" width="195" height="26"/><text x="1180.5" y="3811.5">ilObjUser\setExternalAccount</text></g>
<g id="n164" class="n"><rect x="840" y="3819" width="147" height="25"/><text x="913.5" y="3836">ilObjUser\assignData</text></g>
<g id="n165" class="n"><rect x="1120" y="3845" width="121" height="26"/><text x="1180.5" y="3862.5">ilObjUser\setFax</text></g>
<g id="n166" class="n"><rect x="1103" y="3895" width="155" height="26"/><text x="1180.5" y="3912.5">ilObjUser\setFirstLogin</text></g>
<g id="n167" class="n"><rect x="842" y="3921" width="143" height="26"/><text x="913.5" y="3938.5">ilFileUtils\getDataDir</text></g>
<g id="n168" class="n"><rect x="1102" y="3946" width="157" height="26"/><text x="1180.5" y="3963.5">ilObjUser\setFirstname</text></g>
<g id="n169" class="n"><rect x="823" y="3973" width="181" height="40"/><text x="913.5" y="3989.5">ilObjUser\setLastPassword</text><text x="913.5" y="4004.5">ChangeTS</text></g>
<g id="n170" class="n"><rect x="1105" y="3997" width="151" height="26"/><text x="1180.5" y="4014.5">ilObjUser\setFullname</text></g>
<g id="n171" class="n"><rect x="1110" y="4047" width="141" height="26"/><text x="1180.5" y="4064.5">ilObjUser\setGender</text></g>
<g id="n172" class="n"><rect x="1112" y="4098" width="136" height="26"/><text x="1180" y="4115.5">ilObjUser\setHobby</text></g>
<g id="n173" class="n"><rect x="1103" y="4149" width="155" height="26"/><text x="1180.5" y="4166.5">ilObjUser\setInstitution</text></g>
<g id="n174" class="n"><rect x="1083" y="4200" width="195" height="26"/><text x="1180.5" y="4217.5">ilObjUser\setIsSelfRegistered</text></g>
<g id="n175" class="n"><rect x="1103" y="4250" width="155" height="26"/><text x="1180.5" y="4267.5">ilObjUser\setLastLogin</text></g>
<g id="n176" class="n"><rect x="1103" y="4301" width="155" height="26"/><text x="1180.5" y="4318.5">ilObjUser\setLastname</text></g>
<g id="n177" class="n"><rect x="1101" y="4353" width="160" height="40"/><text x="1181" y="4369.5">ilObjUser\setLastProfile</text><text x="1181" y="4384.5">Prompt</text></g>
<g id="n178" class="n"><rect x="1097" y="4418" width="166" height="26"/><text x="1180" y="4435.5">ilObjUser\setLastUpdate</text></g>
<g id="n179" class="n"><rect x="1109" y="4469" width="144" height="26"/><text x="1181" y="4486.5">ilObjUser\setLatitude</text></g>
<g id="n180" class="n"><rect x="1090" y="4519" width="181" height="26"/><text x="1180.5" y="4536.5">ilObjUser\setLocationZoom</text></g>
<g id="n181" class="n"><rect x="1115" y="4570" width="130" height="26"/><text x="1180" y="4587.5">ilObjUser\setLogin</text></g>
<g id="n182" class="n"><rect x="1381" y="4563" width="182" height="40"/><text x="1472" y="4579.5">ILIAS\UI\examples\Symbol</text><text x="1472" y="4594.5">\Glyph\Login\login</text></g>
<g id="n183" class="n"><rect x="1103" y="4621" width="155" height="26"/><text x="1180.5" y="4638.5">ilObjUser\setLongitude</text></g>
<g id="n184" class="n"><rect x="1094" y="4672" width="172" height="26"/><text x="1180" y="4689.5">ilObjUser\setMatriculation</text></g>
<g id="n185" class="n"><rect x="1061" y="4723" width="239" height="25"/><text x="1180.5" y="4740">ilObjUser\setPasswordEncodingType</text></g>
<g id="n186" class="n"><rect x="1091" y="4773" width="179" height="26"/><text x="1180.5" y="4790.5">ilObjUser\setPasswordSalt</text></g>
<g id="n187" class="n"><rect x="1095" y="4824" width="171" height="26"/><text x="1180.5" y="4841.5">ilObjUser\setPhoneHome</text></g>
<g id="n188" class="n"><rect x="1094" y="4874" width="173" height="26"/><text x="1180.5" y="4891.5">ilObjUser\setPhoneMobile</text></g>
<g id="n189" class="n"><rect x="1095" y="4925" width="171" height="26"/><text x="1180.5" y="4942.5">ilObjUser\setPhoneOffice</text></g>
<g id="n190" class="n"><rect x="1081" y="4975" width="199" height="26"/><text x="1180.5" y="4992.5">ilObjUser\setProfileIncomplete</text></g>
<g id="n191" class="n"><rect x="1093" y="5026" width="175" height="26"/><text x="1180.5" y="5043.5">ilObjUser\setSecondEmail</text></g>
<g id="n192" class="n"><rect x="1083" y="5077" width="195" height="25"/><text x="1180.5" y="5094">ilObjUser\setSelectedCountry</text></g>
<g id="n193" class="n"><rect x="1084" y="5127" width="193" height="26"/><text x="1180.5" y="5144.5">ilObjUser\setInactivationDate</text></g>
<g id="n194" class="n"><rect x="1108" y="5178" width="145" height="26"/><text x="1180.5" y="5195.5">ilObjUser\setPasswd</text></g>
</g>
</svg>
